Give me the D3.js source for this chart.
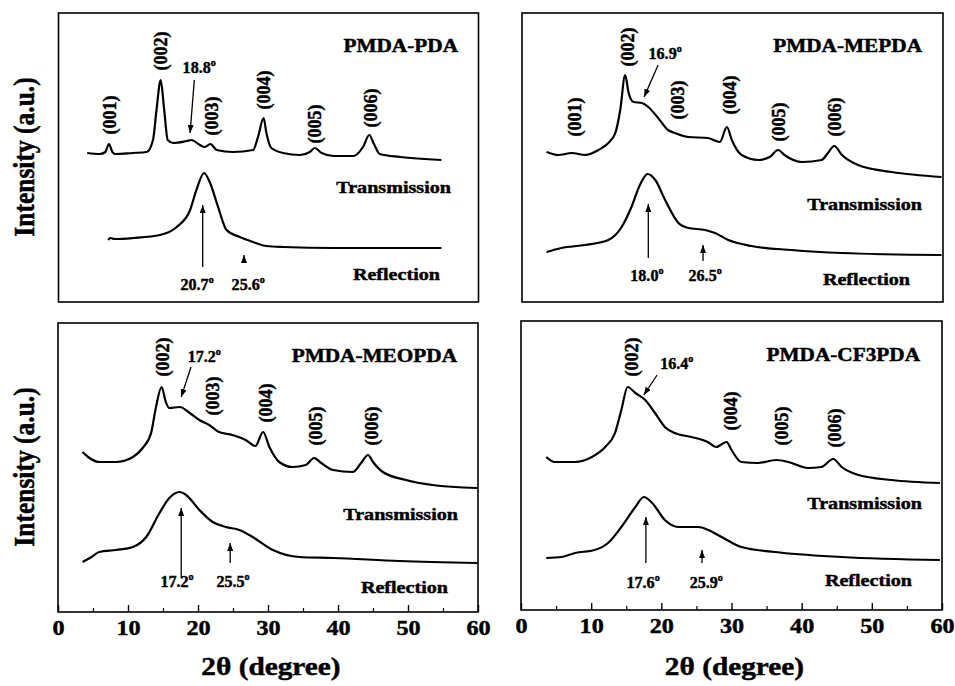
<!DOCTYPE html>
<html><head><meta charset="utf-8">
<script src="https://cdn.jsdelivr.net/npm/d3@7"></script>
<style>body{margin:0;background:#fff}svg{display:block}</style>
</head><body>
<svg id="c" width="955" height="686"></svg>
<script>
// ---------- data ----------
const thetaTicks = [0, 10, 20, 30, 40, 50, 60];
const thetaMinorTicks = [5, 15, 25, 35, 45, 55];
const panelNames = ["PMDA-PDA", "PMDA-MEPDA", "PMDA-MEOPDA", "PMDA-CF3PDA"];
const seriesNames = ["Transmission", "Reflection"];
const xLabel = "2\u03b8 (degree)";
const yLabel = "Intensity (a.u.)";

// [2theta, intensity(a.u.)]
const pdaTrans = [[4.1,149],[5.9,148],[6.7,150],[7.2,158],[7.7,150],[8.1,148],[10.6,149],[12.6,150],[13.5,162],[14.0,192],[14.6,222],[15.1,192],[15.6,162],[16.4,159],[18.3,161],[19.0,162],[20.2,157],[20.9,155],[21.7,158],[22.6,152],[24.9,150],[27.8,152],[28.5,165],[29.3,184],[29.7,169],[30.4,154],[32.1,149],[34.5,147],[35.9,150],[36.6,154],[37.6,149],[39.3,146],[42.1,146],[43.5,155],[44.4,167],[45.0,159],[45.9,148],[48.8,145],[54.7,142]];
const pdaRefl = [[7.1,62],[7.4,64],[8.0,63],[10.7,64],[14.5,67],[16.9,75],[18.8,92],[19.7,112],[20.8,129],[21.6,120],[22.8,95],[24.0,72],[25.9,65],[27.8,60],[29.7,56],[32.1,55],[39.3,54],[54.7,54]];
const mepdaTrans = [[3.5,150],[5.2,147],[7.1,149],[9.0,147],[10.9,152],[12.3,159],[13.3,169],[14.0,192],[14.7,227],[15.2,209],[15.9,200],[17.1,199],[18.0,195],[19.4,184],[20.8,172],[21.8,169],[23.7,165],[26.5,164],[28.2,160],[29.2,175],[29.9,162],[31.3,147],[33.7,142],[35.3,145],[36.5,152],[37.4,147],[39.9,140],[42.7,142],[43.6,149],[44.5,156],[45.6,147],[47.9,137],[52.7,130],[59.8,125]];
const mepdaRefl = [[3.5,50],[5.6,54],[9.0,57],[12.3,62],[14.2,75],[15.6,95],[16.8,117],[17.9,128],[19.0,122],[20.4,102],[22.3,79],[23.7,74],[26.1,72],[27.5,69],[29.4,62],[32.7,56],[38.4,52],[45.6,49],[59.8,47]];
const meopdaTrans = [[3.5,160],[4.3,155],[5.9,150],[8.3,150],[10.7,155],[12.1,164],[13.3,179],[14.0,205],[14.8,225],[15.4,210],[15.9,204],[17.4,205],[18.8,199],[20.2,192],[21.6,187],[23.0,180],[24.9,177],[26.8,172],[28.2,166],[29.3,180],[30.2,165],[31.6,150],[33.5,145],[35.4,147],[36.6,154],[37.6,149],[39.3,142],[42.1,140],[43.3,149],[44.3,157],[45.0,150],[46.4,140],[49.7,132],[53.5,127],[59.9,124]];
const meopdaRefl = [[3.5,50],[4.8,55],[5.9,60],[8.3,62],[10.7,65],[12.6,75],[14.5,99],[15.9,114],[17.4,120],[18.3,117],[20.2,102],[22.1,90],[24.0,85],[25.9,82],[27.8,75],[30.7,62],[34.5,55],[39.3,54],[48.8,51],[59.9,49]];
const cf3pdaTrans = [[3.6,153],[4.8,148],[7.7,148],[10.1,153],[12.0,163],[13.4,177],[14.3,200],[15.2,223],[16.3,217],[17.7,210],[19.1,197],[20.5,183],[21.9,177],[24.3,173],[26.6,168],[27.8,163],[29.3,168],[30.0,160],[31.4,148],[33.8,147],[36.4,150],[38.1,148],[40.9,142],[42.8,143],[44.5,151],[45.7,143],[48.1,135],[52.8,130],[59.7,127]];
const cf3pdaRefl = [[3.6,52],[5.8,53],[7.7,57],[10.5,60],[12.4,67],[14.3,83],[16.3,103],[17.5,113],[18.7,107],[20.5,90],[22.4,83],[25.3,83],[26.7,80],[28.6,73],[31.4,63],[36.2,58],[45.7,53],[59.7,50]];

// Miller-index labels: [label, 2theta, intensity]
const pdaHkl = [["(001)",7.2,187],["(002)",14.6,251],["(003)",21.9,186],["(004)",29.2,212],["(005)",36.6,178],["(006)",44.5,194]];
const mepdaHkl = [["(001)",7.4,185],["(002)",15.0,255],["(003)",22.1,202],["(004)",29.5,207],["(005)",36.6,180],["(006)",44.5,185]];
const meopdaHkl = [["(002)",14.9,255],["(003)",22.0,216],["(004)",29.6,209],["(005)",36.7,186],["(006)",44.7,186]];
const cf3pdaHkl = [["(002)",15.8,253],["(004)",29.9,199],["(005)",37.1,184],["(006)",44.7,182]];

// peak annotations: [label, text 2theta, text intensity, arrow from [2theta,I], arrow to [2theta,I]]
const pdaPeaks = [["18.8",20.1,229,[19.4,222],[18.8,169]],["20.7",19.8,12,[20.6,35],[20.6,97]],["25.6",27.1,12,[26.5,40],[26.5,47]]];
const mepdaPeaks = [["16.9",20.4,243,[19.4,237],[17.4,205]],["18.0",17.8,21,[18.0,44],[18.0,98]],["26.5",26.1,21,[25.8,41],[25.8,57]]];
const meopdaPeaks = [["17.2",20.9,250,[19.0,245],[17.6,215]],["17.2",17.0,25,[17.6,34],[17.6,104]],["25.5",25.0,25,[24.6,49],[24.6,69]]];
const cf3pdaPeaks = [["16.4",22.2,241,[19.4,235],[17.5,215]],["17.6",17.4,22,[17.8,47],[17.8,93]],["25.9",26.4,22,[25.8,47],[25.8,60]]];

const panelTrans = [pdaTrans, mepdaTrans, meopdaTrans, cf3pdaTrans];
const panelRefl = [pdaRefl, mepdaRefl, meopdaRefl, cf3pdaRefl];
const panelHkl = [pdaHkl, mepdaHkl, meopdaHkl, cf3pdaHkl];
const panelPeaks = [pdaPeaks, mepdaPeaks, meopdaPeaks, cf3pdaPeaks];

// ---------- layout ----------
const layout = [
  {x:58.5, y:13,  w:420, h:289, axis:false, ylab:true,  title:[458,52],  trans:[451,193], refl:[440,280]},
  {x:522,  y:13,  w:421, h:289, axis:false, ylab:false, title:[922,52],  trans:[922,210], refl:[910,285]},
  {x:58,   y:323, w:420, h:289, axis:true,  ylab:true,  title:[457,362], trans:[458,520], refl:[448,593]},
  {x:521,  y:321, w:421, h:289, axis:true,  ylab:false, title:[920,361], trans:[922,509], refl:[912,586]}
];
const SX = 1.15;
const FONT = "'Liberation Serif','Times New Roman',Times,serif";
const TSTROKE = 0.45;

const svg = d3.select("#c");
svg.append("defs").append("marker")
  .attr("id","ah").attr("viewBox","0 0 8 6").attr("refX",8).attr("refY",3)
  .attr("markerWidth",8).attr("markerHeight",6).attr("markerUnits","userSpaceOnUse")
  .attr("orient","auto")
  .append("path").attr("d","M0,0L8,3L0,6Z").attr("fill","#000");

function styleText(t, size) {
  return t.attr("font-family", FONT).attr("font-weight","bold")
    .attr("font-size", size).attr("fill","#000")
    .attr("stroke","#000").attr("stroke-width",TSTROKE);
}
function stretched(g, txt, x, y, size, anchor, sx) {
  return styleText(g.append("text").text(txt)
    .attr("transform", `translate(${x},${y}) scale(${sx || SX},1)`)
    .attr("text-anchor", anchor || "start"), size);
}

layout.forEach((L, i) => {
  const g = svg.append("g");
  const x = d3.scaleLinear().domain([0, 60]).range([L.x, L.x + L.w]);
  const y = d3.scaleLinear().domain([0, 289]).range([L.y + L.h, L.y]);

  // frame
  g.append("rect").attr("x",L.x).attr("y",L.y).attr("width",L.w).attr("height",L.h)
    .attr("fill","none").attr("stroke","#000").attr("stroke-width",1.6);

  const line = d3.line().x(d => x(d[0])).y(d => y(d[1])).curve(d3.curveMonotoneX);
  [panelTrans[i], panelRefl[i]].forEach(s => {
    g.append("path").attr("d", line(s)).attr("fill","none")
      .attr("stroke","#000").attr("stroke-width",2.2).attr("stroke-linejoin","round");
  });

  // hkl labels
  panelHkl[i].forEach(h => {
    styleText(g.append("text").text(h[0])
      .attr("transform", `translate(${x(h[1])},${y(h[2])}) scale(1.05,1) rotate(-90)`)
      .attr("dy","0.35em").attr("text-anchor","middle"), 18);
  });

  // peak annotations
  panelPeaks[i].forEach(p => {
    const t = stretched(g, p[0], x(p[1]), y(p[2]), 17.5, "middle", 0.92);
    t.append("tspan").text("o").attr("font-size",11).attr("dy",-7.5);
    g.append("line")
      .attr("x1", x(p[3][0])).attr("y1", y(p[3][1]))
      .attr("x2", x(p[4][0])).attr("y2", y(p[4][1]))
      .attr("stroke","#000").attr("stroke-width",1.3).attr("marker-end","url(#ah)");
  });

  // titles and series labels
  stretched(g, panelNames[i], L.title[0], L.title[1], 18.5, "end");
  stretched(g, seriesNames[0], L.trans[0], L.trans[1], 17.5, "end");
  stretched(g, seriesNames[1], L.refl[0], L.refl[1], 17.5, "end");

  if (L.axis) {
    const base = L.y + L.h;
    const ax = g.append("g").attr("transform",`translate(0,${base})`)
      .call(d3.axisBottom(x).tickValues(thetaTicks).tickSize(-7).tickPadding(1).tickFormat(d3.format("d")));
    ax.select(".domain").remove();
    ax.selectAll("line").attr("stroke","#000").attr("stroke-width",1.4);
    styleText(ax.selectAll("text"), 21).attr("transform",`scale(${SX},1)`).attr("y",8);
    const mn = g.append("g").attr("transform",`translate(0,${base})`)
      .call(d3.axisBottom(x).tickValues(thetaMinorTicks).tickSize(-4).tickFormat(""));
    mn.select(".domain").remove();
    mn.selectAll("line").attr("stroke","#000").attr("stroke-width",1.2);

    stretched(g, xLabel, L.x + L.w/2 + 3, 675, 25.5, "middle");
  }
  if (L.ylab) {
    styleText(g.append("text").text(yLabel)
      .attr("transform", `translate(24,${L.y + 144}) scale(${SX},1) rotate(-90)`)
      .attr("dy","0.35em").attr("text-anchor","middle"), 25.5);
  }
});
</script>
</body></html>
